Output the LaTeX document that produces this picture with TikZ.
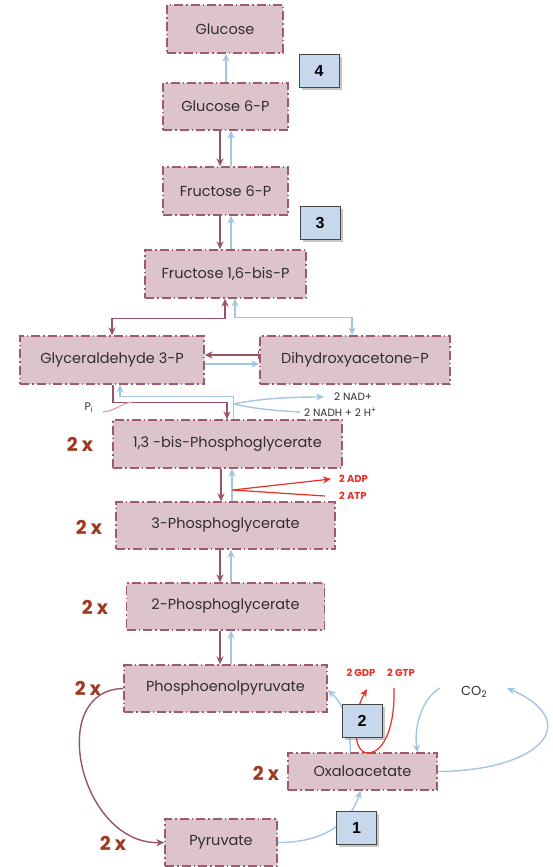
\documentclass[tikz,border=0pt]{standalone}
\usepackage{fontspec}
\setmainfont{Poppins}
\setsansfont{Liberation Sans}
\usetikzlibrary{arrows.meta,shadows}
\definecolor{boxfill}{RGB}{221,195,202}
\definecolor{boxline}{RGB}{160,90,112}
\definecolor{marr}{RGB}{152,82,106}
\definecolor{barr}{RGB}{164,196,228}
\definecolor{rarr}{RGB}{228,48,40}
\definecolor{twoxc}{RGB}{160,56,30}
\definecolor{numfill}{RGB}{200,216,236}
\definecolor{numline}{RGB}{70,70,70}
\definecolor{txt}{RGB}{50,45,45}
\definecolor{pil}{RGB}{225,160,175}
\tikzset{
  metab/.style={draw=boxline, fill=boxfill, line width=1.3pt,
    dash pattern=on 9pt off 3pt on 1.5pt off 3pt, text=txt,
    font=\fontsize{14.5}{16}\selectfont, inner sep=0pt},
  numbox/.style={draw=numline, fill=numfill, line width=1pt,
    minimum width=40pt, minimum height=33pt,
    font=\sffamily\bfseries\fontsize{16}{18}\selectfont,
    drop shadow={opacity=0.45, shadow xshift=2.5pt, shadow yshift=-2.5pt}},
  twox/.style={text=twoxc, font=\bfseries\fontsize{19}{21}\selectfont},
  smalllab/.style={text=txt, font=\fontsize{10.5}{12}\selectfont, inner sep=1pt},
  redlab/.style={text=rarr, font=\bfseries\fontsize{10}{12}\selectfont, inner sep=1pt},
  mline/.style={draw=marr, line width=1.4pt},
  bline/.style={draw=barr, line width=1.4pt},
  rline/.style={draw=rarr, line width=1.2pt},
  pline/.style={draw=pil, line width=1.2pt},
  >={Stealth[length=8pt,width=7pt]}
}
\begin{document}
\begin{tikzpicture}[x=1pt,y=-1pt]
\useasboundingbox (0,0) rectangle (553,867);
% metabolites
\node[metab, minimum width=116pt, minimum height=48pt] (glc) at (225,29) {Glucose};
\node[metab, minimum width=125pt, minimum height=47pt] (g6p) at (225.5,106.5) {Glucose 6-P};
\node[metab, minimum width=125pt, minimum height=48pt] (f6p) at (225.5,191) {Fructose 6-P};
\node[metab, minimum width=161pt, minimum height=48pt] (f16) at (225.5,274) {Fructose 1,6-bis-P};
\node[metab, minimum width=184pt, minimum height=48pt] (g3p) at (112,360) {Glyceraldehyde 3-P};
\node[metab, minimum width=190pt, minimum height=48pt] (dhap) at (355,360) {Dihydroxyacetone-P};
\node[metab, minimum width=229pt, minimum height=48pt] (bpg) at (227.5,444) {1,3 -bis-Phosphoglycerate};
\node[metab, minimum width=219pt, minimum height=47pt] (pg3) at (225.5,525.5) {3-Phosphoglycerate};
\node[metab, minimum width=198pt, minimum height=47pt] (pg2) at (225.5,606.5) {2-Phosphoglycerate};
\node[metab, minimum width=203pt, minimum height=47pt] (pep) at (225.5,688.5) {Phosphoenolpyruvate};
\node[metab, minimum width=149pt, minimum height=37pt] (oaa) at (362.5,771.5) {Oxaloacetate};
\node[metab, minimum width=112pt, minimum height=47pt] (pyr) at (221,842.5) {Pyruvate};
% 2 x labels
\node[twox] (x1) at (80,444) {2 x};
\node[twox] (x2) at (89,527) {2 x};
\node[twox] (x3) at (95,607) {2 x};
\node[twox] (x4) at (88,688) {2 x};
\node[twox] (x5) at (266,773) {2 x};
\node[twox] (x6) at (113,843) {2 x};
% vertical arrows
\draw[bline,->] ([xshift=0.5pt]g6p.north) -- ([xshift=0.5pt]g6p.north |- glc.south);
\draw[mline,->] ([xshift=-5.5pt]g6p.south) -- ([xshift=-5.5pt]f6p.north);
\draw[bline,->] ([xshift=5.5pt]f6p.north) -- ([xshift=5.5pt]g6p.south);
\draw[mline,->] ([xshift=-5.5pt]f6p.south) -- ([xshift=-5.5pt]f16.north);
\draw[bline,->] ([xshift=5.5pt]f16.north) -- ([xshift=5.5pt]f6p.south);
% split
\draw[mline,<->] (g3p.north) |- ([xshift=-0.5pt,yshift=-20pt]f16.south) -- ([xshift=-0.5pt]f16.south);
\draw[bline,<->] ([xshift=-3pt]dhap.north) |- ([xshift=9.5pt,yshift=-19pt]f16.south) -- ([xshift=9.5pt]f16.south);
\draw[mline,|->] ([yshift=5pt]dhap.west) -- ([yshift=5pt]g3p.east);
\draw[bline,->] ([yshift=-4pt]g3p.east) -- ([yshift=-4pt]dhap.west);
% G3P <-> 1,3BPG
\draw[mline,->] ([xshift=1pt]g3p.south) -- ++(0,18) -| ([xshift=-0.5pt]bpg.north);
\draw[bline,->] ([xshift=6pt]bpg.north) -- ++(0,-23) -| ([xshift=8pt]g3p.south);
\node[smalllab, anchor=west] (nad) at (333,397) {2 NAD+};
\node[smalllab, anchor=west] (nadh) at (303,412) {2 NADH + 2 H\textsuperscript{+}};
\coordinate (nadj) at (233.5,404);
\coordinate (nadt) at (324,397);
\coordinate (nadhs) at (300,412);
\draw[bline,->] (nadj) .. controls (262,398) and (295,397) .. (nadt);
\draw[bline] (nadhs) .. controls (280,411) and (255,409) .. (nadj);
\node[smalllab, font=\fontsize{11}{12}\selectfont] (pi) at (89,408) {P\textsubscript{i}};
\coordinate (pis) at (103,412);
\coordinate (pie) at (132,402);
\draw[pline] (pis) .. controls (115,411) and (122,403) .. (pie);
% 1,3BPG <-> 3PG
\draw[mline,->] ([xshift=-6.5pt]bpg.south) -- ([xshift=-4.5pt]pg3.north);
\draw[bline,->] ([xshift=6.5pt]pg3.north) -- ([xshift=4.5pt]bpg.south);
\node[redlab, anchor=west] (adp) at (338,479) {2 ADP};
\node[redlab, anchor=west] (atp) at (338,496) {2 ATP};
\coordinate (atpj) at (232.5,490);
\coordinate (adpt) at (331,479);
\coordinate (atps) at (325,496);
\draw[rline,->] (atpj) -- (adpt);
\draw[rline] (atps) -- (atpj);
% 3PG <-> 2PG <-> PEP
\draw[mline,->] ([xshift=-5.5pt]pg3.south) -- ([xshift=-5.5pt]pg2.north);
\draw[bline,->] ([xshift=5.5pt]pg2.north) -- ([xshift=5.5pt]pg3.south);
\draw[mline,->] ([xshift=-5.5pt]pg2.south) -- ([xshift=-5.5pt]pep.north);
\draw[bline,->] ([xshift=5.5pt]pep.north) -- ([xshift=5.5pt]pg2.south);
% bottom cycle
\draw[mline,->] (pep.west) .. controls (45,690) and (80,845) .. (pyr.west);
\draw[bline,->] (pyr.east) .. controls (320,843) and (350,825) .. ([xshift=-2pt]oaa.south);
\draw[bline,->] ([xshift=-12pt]oaa.north) .. controls (350,725) and (345,705) .. ([yshift=-1.5pt]pep.east);
\node[redlab] (gdp) at (361,673) {2 GDP};
\node[redlab] (gtp) at (401,673) {2 GTP};
\coordinate (gtps) at (394,688);
\coordinate (gdpt) at (367,689);
\draw[rline,->] (gtps) .. controls (395,725) and (385,752) .. (368,753) .. controls (352,753) and (352,715) .. (gdpt);
\node[text=txt, font=\fontsize{13}{14}\selectfont] (co2) at (474,692) {CO\textsubscript{2}};
\coordinate (co2s) at (440,688);
\coordinate (co2t) at (507,688);
\draw[bline,->] (co2s) .. controls (420,700) and (414,730) .. ([xshift=55pt]oaa.north);
\draw[bline,->] (oaa.east) .. controls (540,771) and (585,722) .. (co2t);
% numbered boxes
\node[numbox] (n4) at (319,71) {4};
\node[numbox] (n3) at (320,223) {3};
\node[numbox] (n2) at (362,721) {2};
\node[numbox] (n1) at (356.5,828) {1};
\end{tikzpicture}
\end{document}
